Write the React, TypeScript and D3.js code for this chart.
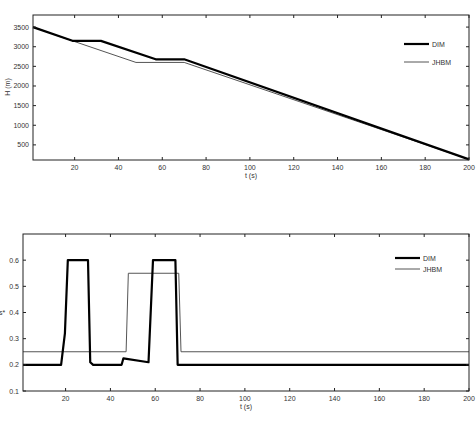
import React, { useEffect, useRef } from 'react';
import * as d3 from 'd3';

// top panel: altitude H (m) vs time
const hDimT = [1, 19, 32, 57, 70, 200];
const hDimV = [3500, 3150, 3150, 2680, 2680, 130];
const hJhbmT = [1, 19, 48, 70, 200];
const hJhbmV = [3500, 3150, 2600, 2600, 130];
const hTicks = [500, 1000, 1500, 2000, 2500, 3000, 3500];

// bottom panel: s* vs time
const sDimT = [1, 18, 19.7, 21, 30, 31, 32.3, 45, 45.8, 57, 59, 69, 70, 200];
const sDimV = [0.2, 0.2, 0.32, 0.6, 0.6, 0.21, 0.2, 0.2, 0.225, 0.21, 0.6, 0.6, 0.2, 0.2];
const sJhbmT = [1, 47, 48, 70.5, 71.5, 200];
const sJhbmV = [0.25, 0.25, 0.55, 0.55, 0.25, 0.25];
const sTicks = [0.1, 0.2, 0.3, 0.4, 0.5, 0.6];

const tTicks = [20, 40, 60, 80, 100, 120, 140, 160, 180, 200];
const seriesNames = ['DIM', 'JHBM'];

const font = 'Liberation Sans, Arial, sans-serif';

type Panel = {
  top: number;
  bottom: number;
  left: number;
  right: number;
  yDomain: [number, number];
  yTicks: number[];
  yFormat: (v: number) => string;
  dim: [number[], number[]];
  jhbm: [number[], number[]];
  legendX: number;
  legendY: number;
  legendGap: number;
  xLabelY: number;
  yLabel: string;
  yLabelRotated: boolean;
  yLabelX: number;
  yLabelY: number;
};

const panels: Panel[] = [
  {
    top: 15, bottom: 160, left: 33, right: 469,
    yDomain: [115, 3808], yTicks: hTicks, yFormat: d3.format('d'),
    dim: [hDimT, hDimV], jhbm: [hJhbmT, hJhbmV],
    legendX: 404, legendY: 44, legendGap: 18, xLabelY: 178,
    yLabel: 'H (m)', yLabelRotated: true, yLabelX: 10, yLabelY: 87,
  },
  {
    top: 234, bottom: 391, left: 23, right: 469,
    yDomain: [0.1, 0.7], yTicks: sTicks, yFormat: d3.format('.1f'),
    dim: [sDimT, sDimV], jhbm: [sJhbmT, sJhbmV],
    legendX: 395, legendY: 258, legendGap: 11, xLabelY: 409,
    yLabel: 's*', yLabelRotated: false, yLabelX: -1, yLabelY: 315,
  },
];

const App = () => {
  const svgRef = useRef<SVGSVGElement>(null);

  useEffect(() => {
    const svg = d3.select(svgRef.current);
    svg.selectAll('*').remove();

    panels.forEach((p) => {
      const x = d3.scaleLinear().domain([1, 200]).range([p.left, p.right]);
      const y = d3.scaleLinear().domain(p.yDomain).range([p.bottom, p.top]);
      const g = svg.append('g');

      const drawSeries = (ts: number[], vs: number[], w: number, color: string) => {
        const pts = ts.map((t, i) => [x(t), y(vs[i])] as [number, number]);
        g.append('path')
          .attr('d', d3.line()(pts))
          .attr('fill', 'none')
          .attr('stroke', color)
          .attr('stroke-width', w)
          .attr('stroke-linejoin', 'round');
      };

      drawSeries(p.jhbm[0], p.jhbm[1], 1, '#555');
      drawSeries(p.dim[0], p.dim[1], 2.2, '#000');

      // frame
      g.append('rect')
        .attr('x', p.left).attr('y', p.top)
        .attr('width', p.right - p.left).attr('height', p.bottom - p.top)
        .attr('fill', 'none').attr('stroke', '#222').attr('stroke-width', 1);

      // x ticks
      tTicks.forEach((t) => {
        const xx = x(t);
        g.append('line').attr('x1', xx).attr('x2', xx).attr('y1', p.bottom).attr('y2', p.bottom - 3).attr('stroke', '#222');
        g.append('line').attr('x1', xx).attr('x2', xx).attr('y1', p.top).attr('y2', p.top + 3).attr('stroke', '#222');
        g.append('text').attr('x', xx).attr('y', p.bottom + 10)
          .attr('text-anchor', 'middle').attr('font-size', 7).attr('font-family', font).attr('fill', '#333')
          .text(String(t));
      });

      // y ticks
      p.yTicks.forEach((v) => {
        const yy = y(v);
        g.append('line').attr('x1', p.left).attr('x2', p.left + 3).attr('y1', yy).attr('y2', yy).attr('stroke', '#222');
        g.append('line').attr('x1', p.right).attr('x2', p.right - 3).attr('y1', yy).attr('y2', yy).attr('stroke', '#222');
        g.append('text').attr('x', p.left - 4).attr('y', yy + 2.5)
          .attr('text-anchor', 'end').attr('font-size', 7).attr('font-family', font).attr('fill', '#333')
          .text(p.yFormat(v));
      });

      // axis labels
      g.append('text').attr('x', (p.left + p.right) / 2).attr('y', p.xLabelY)
        .attr('text-anchor', 'middle').attr('font-size', 7).attr('font-family', font).attr('fill', '#333')
        .text('t (s)');
      const yl = g.append('text').attr('font-size', 7).attr('font-family', font).attr('fill', '#333').text(p.yLabel);
      if (p.yLabelRotated) {
        yl.attr('text-anchor', 'middle')
          .attr('transform', `translate(${p.yLabelX},${p.yLabelY}) rotate(-90)`);
      } else {
        yl.attr('x', p.yLabelX).attr('y', p.yLabelY);
      }

      // legend
      seriesNames.forEach((name, i) => {
        const ly = p.legendY + i * p.legendGap;
        g.append('line').attr('x1', p.legendX).attr('x2', p.legendX + 25).attr('y1', ly).attr('y2', ly)
          .attr('stroke', i === 0 ? '#000' : '#555').attr('stroke-width', i === 0 ? 2.2 : 1);
        g.append('text').attr('x', p.legendX + 28).attr('y', ly + 2.5)
          .attr('font-size', 7).attr('font-family', font).attr('fill', '#333').text(name);
      });
    });
  }, []);

  return <svg ref={svgRef} width={476} height={425} style={{ position: 'absolute', left: 0, top: 0 }} />;
};

export default App;
